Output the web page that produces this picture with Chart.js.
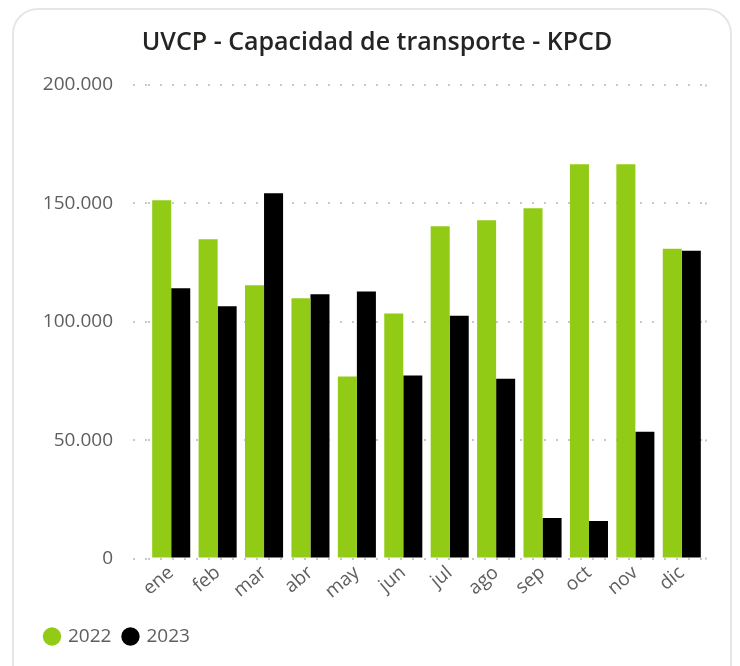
<!DOCTYPE html>
<html>
<head>
<meta charset="utf-8">
<script src="https://cdn.jsdelivr.net/npm/chart.js@4.4.1/dist/chart.umd.min.js"></script>
<style>
  html, body { margin: 0; padding: 0; background: #fff; }
  #wrap { position: relative; width: 740px; height: 666px; overflow: hidden; }
  #card { position: absolute; left: 12px; top: 8px; width: 720px; height: 700px;
          border: 2px solid #e6e6e6; border-radius: 26px; box-sizing: border-box; }
  #grafico { position: absolute; left: 0; top: 0; }
</style>
</head>
<body>
<div id="wrap">
  <div id="card"></div>
  <canvas id="grafico" width="740" height="666"></canvas>
</div>
<script>
// Datos del gráfico
const meses = ['ene', 'feb', 'mar', 'abr', 'may', 'jun', 'jul', 'ago', 'sep', 'oct', 'nov', 'dic'];
const valores2022 = [151300, 134800, 115400, 109900, 76900, 103500, 140300, 142900, 147900, 166500, 166500, 130800];
const valores2023 = [114100, 106500, 154300, 111600, 112800, 77300, 102500, 75900, 17100, 15800, 53500, 130000];
const ticksY = [0, 50000, 100000, 150000, 200000];

const fuente = "'Open Sans', 'Noto Sans', sans-serif";
const gris = '#605E5C';
const punteado = [2, 10];

function formatoMiles(v) {
    return String(v).replace(/\B(?=(\d{3})+(?!\d))/g, '.');
}

const ctx = document.getElementById('grafico').getContext('2d');

const grafico = new Chart(ctx, {
    type: 'bar',
    data: {
        labels: meses,
        datasets: [
            { label: '2022', data: valores2022, backgroundColor: '#92CB16', borderWidth: 0 },
            { label: '2023', data: valores2023, backgroundColor: '#000000', borderWidth: 0 }
        ]
    },
    options: {
        responsive: false,
        animation: false,
        layout: { padding: { top: 10, left: 33, right: 19, bottom: 10 } },
        datasets: { bar: { categoryPercentage: 0.82, barPercentage: 1.0 } },
        scales: {
            x: {
                grid: { display: false, drawTicks: false },
                border: { display: false },
                ticks: {
                    color: gris,
                    font: { family: fuente, size: 19 },
                    minRotation: 40,
                    maxRotation: 40,
                    padding: 3
                },
                afterFit: (scale) => { scale.height = 56; }
            },
            y: {
                min: 0,
                max: 200000,
                afterBuildTicks: (scale) => { scale.ticks = ticksY.map(v => ({ value: v })); },
                border: { display: false, dash: punteado },
                grid: {
                    color: '#c8c8c8',
                    lineWidth: 2,
                    tickLength: 15,
                    tickColor: '#c8c8c8',
                    tickWidth: 2,
                    tickBorderDash: punteado
                },
                ticks: {
                    color: gris,
                    font: { family: fuente, size: 19 },
                    padding: 20,
                    callback: (v) => formatoMiles(v)
                },
                afterFit: (scale) => { scale.width = 115; }
            },
            yDer: {
                position: 'right',
                min: 0,
                max: 200000,
                afterBuildTicks: (scale) => { scale.ticks = ticksY.map(v => ({ value: v })); },
                border: { display: false },
                grid: {
                    drawOnChartArea: false,
                    tickLength: 8,
                    tickColor: '#c8c8c8',
                    tickWidth: 2,
                    tickBorderDash: punteado
                },
                ticks: { display: false },
                afterFit: (scale) => { scale.width = 16; }
            }
        },
        plugins: {
            title: {
                display: true,
                text: 'UVCP - Capacidad de transporte - KPCD',
                color: '#252423',
                font: { family: fuente, size: 25, weight: '600' },
                padding: { top: 18, bottom: 27 }
            },
            legend: {
                position: 'bottom',
                align: 'start',
                labels: {
                    usePointStyle: true,
                    pointStyle: 'circle',
                    boxWidth: 13,
                    boxHeight: 13,
                    padding: 12.5,
                    color: gris,
                    font: { family: fuente, size: 19 }
                }
            },
            tooltip: { enabled: false }
        }
    }
});
</script>
</body>
</html>
